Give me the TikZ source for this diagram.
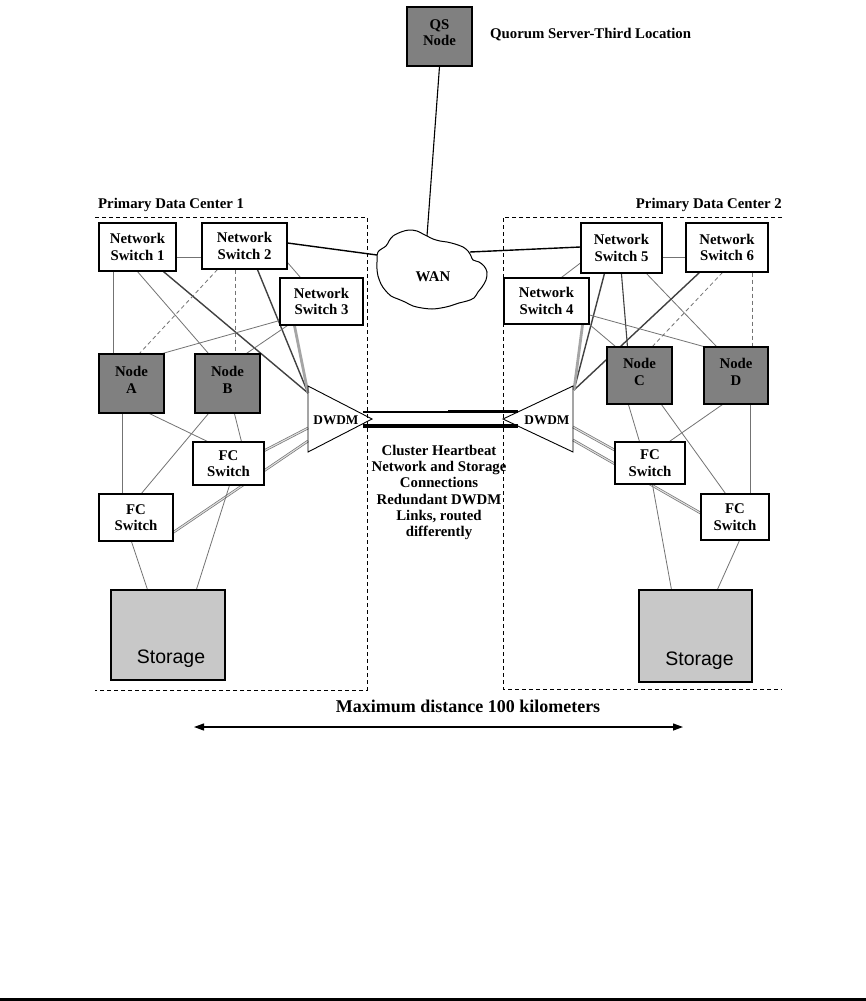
\documentclass[tikz,border=0pt]{standalone}
\usepackage{fontspec}
\setmainfont{Liberation Serif}
\newfontfamily\sansf{Liberation Sans}
\usetikzlibrary{calc,arrows.meta}
\pgfdeclarelayer{back}
\pgfdeclarelayer{bg}
\pgfsetlayers{back,bg,main}
\definecolor{nodegray}{RGB}{128,128,128}
\definecolor{storegray}{RGB}{200,200,200}
\definecolor{linegray}{RGB}{115,115,115}
\definecolor{darkline}{RGB}{65,65,65}
\definecolor{lightline}{RGB}{165,165,165}
\newcommand{\lblfont}{\bfseries\fontsize{14.8}{16.6}\selectfont}
\begin{document}
\begin{tikzpicture}[x=1pt,y=-1pt,
  box/.style={draw=black,line width=1.1pt,fill=white,align=center,font=\lblfont,inner sep=0pt},
  host/.style={box,fill=nodegray,text depth=7.5pt},
  store/.style={draw=black,line width=1.1pt,fill=storegray,inner sep=0pt},
  link/.style={draw=linegray,line width=0.8pt},
  dlink/.style={link,dash pattern=on 4pt off 3pt},
  dark/.style={draw=darkline,line width=1.4pt},
  light/.style={draw=lightline,line width=2.8pt},
  dbl/.style={draw=linegray,line width=0.7pt,double=white!75!gray,double distance=1.1pt},
  wanl/.style={draw=black,line width=1.4pt},
  dc/.style={draw=black,line width=0.9pt,dash pattern=on 4pt off 3pt},
  lbl/.style={font=\lblfont,inner sep=0pt},
  fiber/.style={draw=black,line cap=butt}]
\useasboundingbox (0,0) rectangle (866,1001);
\begin{pgfonlayer}{back}
\fill[white] (0,0) rectangle (866,1001);
\end{pgfonlayer}

% data center outlines
\draw[dc] (95,217) -- (367,217) -- (367,690) -- (95,690);
\draw[dc] (782,217) -- (503,217) -- (503,689) -- (782,689);
\node[lbl,anchor=west] (dc1) at (98,205) {Primary Data Center 1};
\node[lbl,anchor=east] (dc2) at (782,205) {Primary Data Center 2};

% QS
\node[host,minimum width=65pt,minimum height=59pt] (qs) at (439.5,36.5) {QS\\Node};
\node[lbl,anchor=west] (qsl) at (490,35) {Quorum Server-Third Location};

% WAN cloud
\draw[line width=1pt,fill=white] plot[smooth cycle,tension=0.55] coordinates {
 (377,262) (378,252) (386,246) (389,241) (393,236) (401,232) (409,230) (417,231)
 (423,234) (427,236) (433,239) (440,241) (447,242) (455,244) (463,247) (468,251)
 (471,256) (473,260) (479,262) (484,266) (487,272) (486,280) (482,287) (478,292)
 (474,298) (467,301) (459,303) (450,306) (441,308) (432,309) (422,308) (413,306)
 (405,302) (398,299) (391,296) (385,290) (381,284) (378,276) (377,269)};
\node[lbl] (wan) at (433,277) {WAN};
\coordinate (wanL) at (377,255);
\coordinate (wanT) at (427,236);
\coordinate (wanR) at (470,252);

% left DC nodes
\node[box,minimum width=77pt,minimum height=48pt] (ns1) at (137.5,247) {Network\\Switch 1};
\node[box,minimum width=85pt,minimum height=46pt] (ns2) at (244.5,246) {Network\\Switch 2};
\node[box,minimum width=83pt,minimum height=47pt] (ns3) at (321.5,301.5) {Network\\Switch 3};
\node[host,minimum width=65pt,minimum height=59pt] (nA) at (131.5,383.5) {Node\\A};
\node[host,minimum width=65pt,minimum height=59pt] (nB) at (227.5,383.5) {Node\\B};
\node[box,minimum width=71pt,minimum height=43pt] (fc1u) at (228.5,463.5) {FC\\Switch};
\node[box,minimum width=74pt,minimum height=47pt] (fc1l) at (136,517.5) {FC\\Switch};
\node[store,minimum width=114pt,minimum height=90pt] (st1) at (168,635) {};
\node[font=\sansf\fontsize{19.5}{22}\selectfont,inner sep=0pt] (st1t) at ($(st1.south)+(3,-22)$) {Storage};

% right DC nodes
\node[box,minimum width=81pt,minimum height=50pt] (ns5) at (621.5,248) {Network\\Switch 5};
\node[box,minimum width=82pt,minimum height=49pt] (ns6) at (727,247.5) {Network\\Switch 6};
\node[box,minimum width=85pt,minimum height=46pt] (ns4) at (546.5,301) {Network\\Switch 4};
\node[host,minimum width=65pt,minimum height=57pt] (nC) at (639.5,375.5) {Node\\C};
\node[host,minimum width=64pt,minimum height=57pt] (nD) at (736,375.5) {Node\\D};
\node[box,minimum width=70pt,minimum height=42pt] (fc2u) at (650,463) {FC\\Switch};
\node[box,minimum width=68pt,minimum height=46pt] (fc2l) at (735,517) {FC\\Switch};
\node[store,minimum width=113pt,minimum height=92pt] (st2) at (695.5,636) {};
\node[font=\sansf\fontsize{19.5}{22}\selectfont,inner sep=0pt] (st2t) at ($(st2.south)+(4,-22)$) {Storage};

% DWDM units
\draw[line width=0.9pt] (308,386) -- (308,452) -- (372,419) -- cycle;
\draw[line width=0.9pt] (573,386) -- (573,452) -- (503,419) -- cycle;
\node[font=\bfseries\fontsize{13.3}{15}\selectfont,inner sep=0pt] (dwL) at (336,420) {DWDM};
\node[font=\bfseries\fontsize{13.3}{15}\selectfont,inner sep=0pt] (dwR) at (547,420) {DWDM};
\coordinate (dL) at (308,393);
\coordinate (dLa) at (308,428);
\coordinate (dLb) at (308,441);
\coordinate (dR) at (574,390);
\coordinate (dRa) at (573,427);
\coordinate (dRb) at (573,440);
\coordinate (lkLu) at (363,412);
\coordinate (lkRu) at (518,412);
\coordinate (lkMu) at (448,411.5);
\coordinate (lkRu2) at (518,411.5);
\coordinate (lkLl) at (363,426);
\coordinate (lkRl) at (518,426);
\draw[fiber,line width=2pt] (lkLu) -- (lkRu);
\draw[fiber,line width=3.2pt] (lkMu) -- (lkRu2);
\draw[fiber,line width=3.4pt] (lkLl) -- (lkRl);

\node[lbl,align=center,font=\bfseries\fontsize{14.8}{16.2}\selectfont] (hb) at (439,492.5)
 {Cluster Heartbeat\\Network and Storage\\Connections\\Redundant DWDM\\Links, routed\\differently};

% distance
\node[font=\bfseries\fontsize{18}{20}\selectfont,inner sep=0pt] (dist) at (468,706) {Maximum distance 100 kilometers};
\coordinate (arrL) at (194,727);
\coordinate (arrR) at (683,727);
\draw[line width=1.2pt,{Triangle[length=10pt,width=7pt]}-{Triangle[length=10pt,width=7pt]}] (arrL) -- (arrR);

\fill[black] (0,998) rectangle (866,1001);

\begin{pgfonlayer}{bg}
% WAN
\draw[draw=black,line width=1.1pt] (qs.south) -- (wanT);
\draw[wanl] ($(ns2.east)+(0,-3)$) -- (wanL);
\draw[wanl] (wanR) -- ($(ns5.west)+(0,-1)$);
% left DC
\draw[link] ($(ns1.east)+(0,10)$) -- ($(ns2.west)+(0,11)$);
\draw[link] ($(ns1.south west)+(15,0)$) -- ($(nA.north west)+(15,0)$);
\draw[link] ($(ns1.south west)+(39,0)$) -- ($(nB.north west)+(14,0)$);
\draw[dark] ($(ns1.south west)+(65,0)$) -- (dL);
\draw[dlink] ($(ns2.south west)+(16,0)$) -- ($(nA.north west)+(41,0)$);
\draw[dlink] ($(ns2.south west)+(34,0)$) -- ($(nB.north west)+(41,0)$);
\draw[dark] ($(ns2.south west)+(56,0)$) -- (dL);
\draw[link] ($(ns2.south east)+(0,-7)$) -- ($(ns3.north west)+(21,0)$);
\draw[link] ($(ns3.south west)+(0,-5)$) -- ($(nA.north east)+(-2,0)$);
\draw[link] ($(ns3.south west)+(8,0)$) -- ($(nB.north west)+(52,0)$);
\draw[light] ($(ns3.south west)+(15,0)$) -- (dL);
\draw[link] ($(nA.south west)+(24,0)$) -- ($(fc1l.north west)+(24,0)$);
\draw[link] ($(nA.south west)+(51,0)$) -- ($(fc1u.north west)+(15,0)$);
\draw[link] ($(nB.south west)+(14,0)$) -- ($(fc1l.north west)+(43,0)$);
\draw[link] ($(nB.south west)+(40,0)$) -- ($(fc1u.north west)+(49,0)$);
\draw[dbl] ($(fc1u.east)+(0,-13)$) -- (dLa);
\draw[dbl] ($(fc1l.south east)+(-2,-8)$) -- (dLb);
\draw[link] ($(fc1l.south west)+(33,0)$) -- ($(st1.north west)+(37,0)$);
\draw[link] ($(fc1u.south west)+(37,0)$) -- ($(st1.north west)+(86,0)$);
% right DC
\draw[link] ($(ns5.east)+(0,9)$) -- ($(ns6.west)+(0,9.5)$);
\draw[link] ($(ns5.west)+(0,15)$) -- ($(ns4.north west)+(58,0)$);
\draw[dark] ($(ns5.south west)+(24,0)$) -- (dR);
\draw[dark,line width=1.1pt] ($(ns5.south west)+(41,0)$) -- ($(nC.north west)+(21,0)$);
\draw[link] ($(ns5.south west)+(66,0)$) -- ($(nD.north west)+(13,0)$);
\draw[dark] ($(ns6.south west)+(14,0)$) -- (dR);
\draw[dlink] ($(ns6.south west)+(37,0)$) -- ($(nC.north west)+(46,0)$);
\draw[dlink] ($(ns6.south west)+(67,0)$) -- ($(nD.north west)+(49,0)$);
\draw[link] ($(ns4.east)+(0,14)$) -- (nD.north west);
\draw[link] (ns4.south east) -- ($(nC.north west)+(9,0)$);
\draw[light] ($(ns4.south east)+(-7,0)$) -- (dR);
\draw[link] ($(nC.south west)+(22,0)$) -- ($(fc2u.north west)+(25,0)$);
\draw[link] ($(nC.south west)+(55,0)$) -- ($(fc2l.north west)+(25,0)$);
\draw[link] ($(nD.south west)+(19,0)$) -- ($(fc2u.north west)+(55,0)$);
\draw[link] ($(nD.south west)+(47,0)$) -- ($(fc2l.north west)+(50,0)$);
\draw[dbl] ($(fc2u.west)+(0,-13)$) -- (dRa);
\draw[dbl] ($(fc2l.west)+(0,-4)$) -- (dRb);
\draw[link] ($(fc2u.south west)+(38,0)$) -- ($(st2.north west)+(33,0)$);
\draw[link] ($(fc2l.south west)+(39,0)$) -- ($(st2.north west)+(79,0)$);
\end{pgfonlayer}
\end{tikzpicture}
\end{document}
